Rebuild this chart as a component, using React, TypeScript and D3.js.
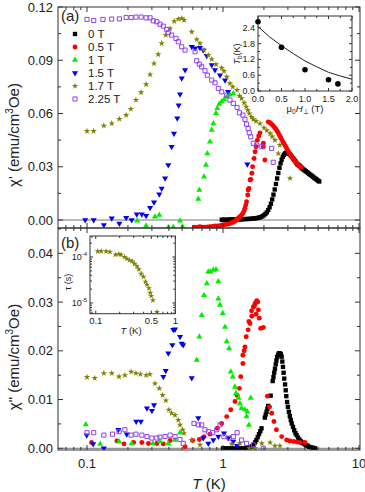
import React, { useEffect, useRef } from 'react';
import * as d3 from 'd3';

// legend
const fields = ['0 T', '0.5 T', '1 T', '1.5 T', '1.7 T', '2.25 T'];
const colors = ['#000000', '#ff0000', '#00ee00', '#0000ee', '#808000', '#9040f0'];
const shapes = ['square', 'circle', 'triangle', 'down', 'star', 'open'];

// panel (a): chi' [T (K), emu/cm3Oe]
const re0: [number, number][] = [
  [0.98, 0.0002], [1.0, 0.0], [1.03, 0.0002], [1.06, 0.0001], [1.1, 0.0002], [1.13, 0.0003], [1.17, 0.0002],
  [1.2, 0.0003], [1.24, 0.0003], [1.28, 0.0004], [1.32, 0.0003], [1.36, 0.0004], [1.4, 0.0005], [1.45, 0.0005],
  [1.5, 0.0006], [1.55, 0.0006], [1.6, 0.0007], [1.65, 0.0008], [1.7, 0.0009], [1.75, 0.001], [1.8, 0.0012],
  [1.85, 0.0014], [1.9, 0.0017], [1.95, 0.0021], [2.0, 0.0027], [2.05, 0.0034], [2.1, 0.0043], [2.15, 0.0056],
  [2.2, 0.0072], [2.25, 0.0092], [2.3, 0.0116], [2.35, 0.0143], [2.4, 0.0172], [2.45, 0.0203], [2.5, 0.0234],
  [2.55, 0.0265], [2.6, 0.0294], [2.65, 0.0319], [2.7, 0.034], [2.75, 0.0356], [2.8, 0.0367], [2.86, 0.0375],
  [2.92, 0.0379], [2.98, 0.0378], [3.04, 0.0375], [3.1, 0.037], [3.16, 0.0363], [3.22, 0.0355], [3.28, 0.0347],
  [3.34, 0.0339], [3.4, 0.0331], [3.46, 0.0322], [3.52, 0.0314], [3.58, 0.031], [3.64, 0.0306], [3.7, 0.0302],
  [3.76, 0.0296], [3.82, 0.029], [3.9, 0.0285], [3.98, 0.028], [4.06, 0.0275], [4.14, 0.027], [4.22, 0.0265],
  [4.3, 0.026], [4.4, 0.0254], [4.5, 0.0249], [4.6, 0.0243], [4.7, 0.0237], [4.8, 0.0232], [4.9, 0.0227],
  [5.0, 0.0222], [5.1, 0.0217],
];
const re05: [number, number][] = [
  [0.615, -0.0041], [0.65, -0.004], [0.677, -0.0038], [0.71, -0.004], [0.737, -0.0041], [0.77, -0.0039],
  [0.802, -0.0038], [0.84, -0.0037], [0.873, -0.0034], [0.91, -0.0034], [0.95, -0.0032], [0.98, -0.0029],
  [1.017, -0.0026], [1.05, -0.0025], [1.094, -0.0023], [1.13, -0.0019], [1.16, -0.0015], [1.19, -0.0011],
  [1.225, -0.0007], [1.25, -0.0001], [1.27, 0.0004], [1.3, 0.0011], [1.33, 0.0019], [1.37, 0.0028], [1.4, 0.0038],
  [1.43, 0.0052], [1.45, 0.0066], [1.47, 0.0084], [1.49, 0.0103], [1.52, 0.0141], [1.53, 0.0169], [1.55, 0.0178],
  [1.58, 0.0225], [1.6, 0.0229], [1.63, 0.0263], [1.65, 0.03], [1.69, 0.0347], [1.72, 0.0385], [1.75, 0.0413],
  [1.79, 0.045], [1.83, 0.0473], [1.87, 0.0491], [1.98, 0.0432], [1.98, 0.0413], [2.03, 0.0338],
  [2.15, 0.0553], [2.2, 0.0549], [2.25, 0.0543], [2.3, 0.0536], [2.35, 0.0528], [2.4, 0.052], [2.45, 0.0511],
  [2.5, 0.0501], [2.55, 0.049], [2.6, 0.0478], [2.65, 0.0466], [2.7, 0.0453], [2.76, 0.044], [2.82, 0.0428],
  [2.88, 0.0416], [2.94, 0.0403], [3.0, 0.0391], [3.06, 0.0379], [3.13, 0.0367], [3.2, 0.0356], [3.28, 0.0344],
  [3.36, 0.0333], [3.45, 0.0322], [3.55, 0.0312], [3.65, 0.0303], [3.75, 0.0297],
];
const re1: [number, number][] = [
  [0.234, -0.0004], [0.272, -0.0032], [0.316, 0.0019], [0.34, 0.0028], [0.396, -0.0042], [0.431, -0.0041],
  [0.483, -0.0004], [0.505, -0.0038], [0.658, 0.0118], [0.67, 0.0169], [0.725, 0.0244], [0.75, 0.031],
  [0.767, 0.0375], [0.802, 0.0441], [0.826, 0.0507], [0.849, 0.0544], [0.888, 0.0601], [0.908, 0.0629],
  [0.939, 0.0653], [0.978, 0.0666], [1.02, 0.068], [1.065, 0.0694], [1.12, 0.0705], [1.19, 0.0713],
];
const re15: [number, number][] = [
  [0.097, 0.0], [0.112, 0.0], [0.133, -0.0028], [0.152, 0.001], [0.173, -0.0019], [0.194, 0.0013], [0.213, 0.0],
  [0.232, 0.0032], [0.253, 0.0032], [0.272, 0.0024], [0.291, 0.0069], [0.311, 0.01], [0.34, 0.0145],
  [0.354, 0.0178], [0.375, 0.0235], [0.396, 0.031], [0.419, 0.0413], [0.436, 0.0488], [0.461, 0.0573],
  [0.472, 0.0647], [0.483, 0.0708], [0.497, 0.0798], [0.526, 0.0845], [0.589, 0.0976], [0.623, 0.0967],
  [0.677, 0.097], [0.716, 0.0957], [0.759, 0.0925], [0.826, 0.0873], [0.873, 0.0845], [0.95, 0.0816],
  [1.035, 0.0788], [1.09, 0.0722], [1.51, 0.0314],
];
const re17: [number, number][] = [
  [0.1, 0.0501], [0.112, 0.0501], [0.133, 0.0531], [0.152, 0.0544], [0.173, 0.0569], [0.194, 0.0591],
  [0.21, 0.0625], [0.229, 0.0676], [0.25, 0.0719], [0.272, 0.0764], [0.291, 0.082], [0.311, 0.0882],
  [0.334, 0.0933], [0.354, 0.0995], [0.379, 0.1042], [0.408, 0.1079], [0.438, 0.112], [0.469, 0.1132],
  [0.497, 0.1136], [0.517, 0.1126], [0.589, 0.106], [0.641, 0.1017], [0.677, 0.0995], [0.725, 0.0957],
  [0.78, 0.0929], [0.826, 0.0906], [0.888, 0.0877], [0.978, 0.0857], [1.017, 0.0839], [1.065, 0.0807],
  [1.125, 0.077], [1.18, 0.075], [1.27, 0.0732], [1.32, 0.07], [1.37, 0.0685], [1.43, 0.066], [1.48, 0.0638],
  [1.52, 0.062], [1.56, 0.06], [1.62, 0.058], [1.67, 0.0567], [1.75, 0.0557], [1.87, 0.0544], [2.0, 0.052],
  [2.1, 0.0505], [2.22, 0.0488], [2.3, 0.047], [2.41, 0.045], [2.62, 0.0422], [2.55, 0.0375], [3.11, 0.0235],
];
const re225: [number, number][] = [
  [0.1, 0.113], [0.112, 0.1124], [0.131, 0.113], [0.152, 0.1132], [0.173, 0.1133], [0.194, 0.1141],
  [0.211, 0.1141], [0.229, 0.1143], [0.25, 0.1143], [0.272, 0.1139], [0.291, 0.1139], [0.307, 0.1122],
  [0.326, 0.1117], [0.344, 0.1103], [0.364, 0.1092], [0.386, 0.1074], [0.396, 0.1055], [0.419, 0.1042],
  [0.451, 0.1023], [0.469, 0.1004], [0.497, 0.0976], [0.526, 0.0957], [0.623, 0.0948], [0.641, 0.0897],
  [0.67, 0.0878], [0.697, 0.0863], [0.737, 0.0841], [0.767, 0.0816], [0.826, 0.0788], [0.873, 0.0773],
  [0.924, 0.0741], [0.978, 0.0722], [1.065, 0.0704], [1.125, 0.0676], [1.19, 0.0657], [1.27, 0.0634],
  [1.32, 0.0604], [1.4, 0.0591], [1.45, 0.0567], [1.49, 0.054], [1.53, 0.0516], [1.56, 0.0491], [1.6, 0.0469],
  [1.67, 0.0432], [1.77, 0.0422], [1.93, 0.0413], [2.28, 0.0404], [2.34, 0.0325],
];

// panel (b): chi'' [T (K), emu/cm3Oe]
const im0: [number, number][] = [
  [1.0, 0.0], [1.05, 0.0], [1.1, 0.0], [1.16, 0.0], [1.22, 0.0], [1.28, 0.0], [1.35, 0.0], [1.42, 0.0],
  [1.5, 0.0001], [1.57, 0.0002], [1.63, 0.0004], [1.68, 0.0007], [1.72, 0.0012], [1.76, 0.0017], [1.8, 0.0023],
  [1.84, 0.0029], [1.88, 0.0035], [1.92, 0.0041], [2.03, 0.0063], [2.06, 0.0069], [2.09, 0.0075], [2.12, 0.0081],
  [2.15, 0.0087], [2.24, 0.0108], [2.32, 0.0138], [2.35, 0.0146], [2.38, 0.0155], [2.41, 0.0163], [2.44, 0.0172],
  [2.47, 0.018], [2.5, 0.0187], [2.54, 0.0192], [2.58, 0.0195], [2.62, 0.0195], [2.66, 0.0193], [2.7, 0.0188],
  [2.73, 0.0178], [2.76, 0.0167], [2.79, 0.0155], [2.82, 0.0143], [2.86, 0.0131], [2.89, 0.0119], [2.92, 0.0107],
  [2.96, 0.0095], [3.0, 0.0085], [3.05, 0.0075], [3.1, 0.0066], [3.15, 0.0058], [3.2, 0.0051], [3.27, 0.0044],
  [3.34, 0.0037], [3.41, 0.0031], [3.48, 0.0027], [3.56, 0.0022], [3.64, 0.0018], [3.72, 0.0015], [3.8, 0.0012],
  [3.9, 0.001], [4.0, 0.0008], [4.1, 0.0006], [4.2, 0.0005], [4.3, 0.0003], [4.45, 0.0002], [4.6, 0.0001],
  [4.75, 0.0],
];
const im05: [number, number][] = [
  [0.108, 0.0012], [0.166, 0.0015], [0.187, 0.0009], [0.22, 0.0012], [0.253, 0.0012], [0.283, 0.001],
  [0.326, 0.001], [0.364, 0.0009], [0.408, 0.0016], [0.526, 0.0003], [0.599, 0.0016], [0.67, 0.0018],
  [0.725, 0.0024], [0.802, 0.0029], [0.908, 0.0041], [0.978, 0.0051], [1.065, 0.0065], [1.14, 0.0079],
  [1.225, 0.0096], [1.27, 0.0109], [1.32, 0.0123], [1.35, 0.0147], [1.4, 0.0174], [1.4, 0.0191], [1.43, 0.02],
  [1.45, 0.0208], [1.48, 0.0229], [1.53, 0.0243], [1.55, 0.026], [1.58, 0.0256], [1.62, 0.0282], [1.63, 0.0271],
  [1.67, 0.029], [1.7, 0.0292], [1.72, 0.0297], [1.75, 0.0275], [1.77, 0.0303], [1.8, 0.03], [1.82, 0.0284],
  [1.85, 0.0267], [1.89, 0.0246], [1.98, 0.0248], [2.12, 0.0107], [2.2, 0.0085], [2.28, 0.0072],
  [2.37, 0.0055], [2.47, 0.0038], [2.7, 0.0024], [2.94, 0.0017], [3.1, 0.0015], [3.3, 0.0014], [3.5, 0.0013],
  [3.68, 0.0012], [4.0, 0.0012],
];
const im1: [number, number][] = [
  [0.098, 0.0049], [0.125, 0.0009], [0.172, 0.0014], [0.213, 0.001], [0.305, 0.001], [0.344, 0.0014],
  [0.396, 0.001], [0.444, 0.0017], [0.483, 0.0032], [0.641, 0.0181], [0.67, 0.0229], [0.697, 0.0273],
  [0.725, 0.0314], [0.76, 0.0338], [0.78, 0.0362], [0.81, 0.0362], [0.849, 0.0366], [0.888, 0.0367],
  [0.924, 0.0342], [0.924, 0.0307], [0.95, 0.0294], [0.995, 0.0277], [1.035, 0.0249], [1.065, 0.0219],
  [1.11, 0.0205], [1.14, 0.0157], [1.18, 0.0147], [1.225, 0.0126], [1.245, 0.0113], [1.3, 0.0103],
  [1.33, 0.0092], [1.37, 0.0082], [1.45, 0.0079], [1.51, 0.0075], [1.49, 0.0065], [1.6, 0.0103], [1.55, 0.0048],
];
const im15: [number, number][] = [
  [0.0995, 0.0027], [0.111, 0.0009], [0.133, 0.0], [0.17, 0.0038], [0.196, 0.0029], [0.23, 0.0055],
  [0.249, 0.0055], [0.276, 0.0082], [0.3, 0.0077], [0.311, 0.0089], [0.364, 0.0147], [0.379, 0.0159],
  [0.396, 0.0195], [0.424, 0.0212], [0.431, 0.0243], [0.444, 0.0244], [0.483, 0.0229], [0.497, 0.0215],
  [0.51, 0.0212], [0.589, 0.0144], [0.658, 0.0062], [0.716, 0.0021], [0.78, 0.001], [0.849, 0.0017],
  [0.924, 0.0024], [1.017, 0.0031], [1.094, 0.0021], [1.19, 0.0014], [1.27, 0.0005],
];
const im17: [number, number][] = [
  [0.1, 0.0146], [0.114, 0.0144], [0.133, 0.0154], [0.152, 0.0154], [0.172, 0.0147], [0.19, 0.015],
  [0.211, 0.0157], [0.229, 0.0154], [0.247, 0.0152], [0.272, 0.015], [0.29, 0.0152], [0.316, 0.0133],
  [0.34, 0.0123], [0.36, 0.0109], [0.38, 0.0098], [0.4, 0.0079], [0.419, 0.0072], [0.444, 0.0068],
  [0.469, 0.0058], [0.483, 0.0048], [0.505, 0.0038], [0.517, 0.0031], [0.589, 0.0017], [0.677, 0.0007],
  [1.16, 0.0009], [1.33, 0.001], [1.56, 0.0], [1.72, 0.0], [1.93, 0.001], [2.22, 0.0012], [2.41, 0.0005],
  [2.62, 0.0005],
];
const im225: [number, number][] = [
  [0.1, 0.0032], [0.112, 0.0032], [0.133, 0.0027], [0.154, 0.0029], [0.172, 0.0034], [0.19, 0.0038],
  [0.211, 0.0027], [0.229, 0.0029], [0.253, 0.0027], [0.276, 0.0024], [0.3, 0.0021], [0.326, 0.0021],
  [0.344, 0.0023], [0.375, 0.0024], [0.408, 0.0027], [0.444, 0.0024], [0.483, 0.0018], [0.51, 0.001],
  [0.612, 0.0051], [0.658, 0.0048], [0.697, 0.0048], [0.737, 0.0038], [0.78, 0.0034], [0.84, 0.0032],
  [0.9, 0.0038], [0.95, 0.0048], [1.017, 0.0024], [1.11, 0.0021], [1.19, 0.0024], [1.27, 0.0032],
  [1.37, 0.0017], [1.49, 0.001], [1.67, 0.0007], [1.98, 0.0],
];

// inset (a): blocking temperature vs field
const insetH = [0, 0.5, 1.0, 1.5, 1.7];
const insetTb = [2.63, 1.66, 0.81, 0.43, 0.27];
const curveH = [0, 0.25, 0.5, 0.75, 1.0, 1.25, 1.5, 1.75, 2.0];
const curveTb = [2.45, 2.05, 1.72, 1.42, 1.14, 0.92, 0.71, 0.57, 0.45];

// inset (b): relaxation time at 1.7 T
const tauT = [0.106, 0.117, 0.135, 0.151, 0.177, 0.195, 0.208, 0.23, 0.246, 0.266, 0.287, 0.307, 0.329,
  0.348, 0.372, 0.398, 0.422, 0.44, 0.466, 0.484, 0.498, 0.523, 0.587];
const tauS = [1.33e-4, 1.33e-4, 1.33e-4, 1.29e-4, 1.12e-4, 1.16e-4, 1.12e-4, 1.0e-4, 9.2e-5, 8.5e-5, 8.1e-5,
  7.1e-5, 6.3e-5, 5.4e-5, 4.3e-5, 3.7e-5, 2.9e-5, 2.5e-5, 2.1e-5, 1.67e-5, 1.42e-5, 1.14e-5, 6.4e-6];

const realSeries = [re0, re05, re1, re15, re17, re225];
const imagSeries = [im0, im05, im1, im15, im17, im225];

const FONT = '"Liberation Sans", Arial, Helvetica, sans-serif';
const INK = '#333';

function marker(g, shape, color, cx, cy, s = 1) {
  const typeMap = {
    square: d3.symbolSquare, circle: d3.symbolCircle, triangle: d3.symbolTriangle,
    down: d3.symbolTriangle, star: d3.symbolStar, open: d3.symbolSquare,
  };
  const sizeMap = { square: 19, circle: 19, triangle: 16, down: 16, star: 13, open: 17 };
  const p = g.append('path')
    .attr('d', d3.symbol().type(typeMap[shape]).size(sizeMap[shape] * s)())
    .attr('transform', `translate(${cx},${cy})${shape === 'down' ? ' rotate(180)' : ''}`);
  if (shape === 'open') p.attr('fill', 'none').attr('stroke', color).attr('stroke-width', 1);
  else p.attr('fill', color);
}

function logMinors(lo, hi) {
  const out = [];
  for (let e = Math.floor(Math.log10(lo)); e <= Math.ceil(Math.log10(hi)); e++) {
    for (let k = 1; k <= 9; k++) {
      const v = k * Math.pow(10, e);
      if (v >= lo && v <= hi) out.push(v);
    }
  }
  return out;
}

export default function App() {
  const ref = useRef(null);
  useEffect(() => {
    draw();
    // eslint-disable-next-line react-hooks/exhaustive-deps
  }, []);

  function draw() {
    const svg = d3.select(ref.current);
    svg.selectAll('*').remove();
    const L = 58;
    const R = 360;
    const x = d3.scaleLog().domain([0.0612, 10.17]).range([L, R]);
    const ya = d3.scaleLinear().domain([-0.0045, 0.12]).range([228, 7]);
    const yb = d3.scaleLinear().domain([-0.00035, 0.0452]).range([450, 228]);

    const defs = svg.append('defs');
    defs.append('clipPath').attr('id', 'clipA').append('rect')
      .attr('x', L).attr('y', 7).attr('width', R - L).attr('height', 221);
    defs.append('clipPath').attr('id', 'clipB').append('rect')
      .attr('x', L).attr('y', 228).attr('width', R - L).attr('height', 222);

    const xMinor = logMinors(0.0612, 10.17);
    const xMajor = [0.1, 1, 10];

    function panel(y, series, clip, majors, minorStep, top, bottom) {
      const g = svg.append('g');
      // zero line
      g.append('line').attr('x1', L).attr('x2', R).attr('y1', y(0)).attr('y2', y(0))
        .attr('stroke', '#777').attr('stroke-width', 1);
      const marks = g.append('g').attr('clip-path', `url(#${clip})`);
      series.forEach((data, i) => {
        data.forEach((d) => marker(marks, shapes[i], colors[i], x(d[0]), y(d[1])));
      });
      g.append('rect').attr('x', L).attr('y', top).attr('width', R - L).attr('height', bottom - top)
        .attr('fill', 'none').attr('stroke', INK).attr('stroke-width', 1);
      const ticks = g.append('g').attr('stroke', INK).attr('stroke-width', 1);
      xMinor.forEach((v) => {
        const len = xMajor.includes(v) ? 5 : 3;
        ticks.append('line').attr('x1', x(v)).attr('x2', x(v)).attr('y1', bottom).attr('y2', bottom - len);
        ticks.append('line').attr('x1', x(v)).attr('x2', x(v)).attr('y1', top).attr('y2', top + len);
      });
      const [y0, y1] = y.domain();
      for (let v = 0; v <= y1 + 1e-9; v += minorStep) {
        const isMajor = majors.some((m) => Math.abs(m - v) < 1e-9);
        const len = isMajor ? 5 : 3;
        const py = y(v);
        if (v < y0) continue;
        ticks.append('line').attr('x1', L).attr('x2', L + len).attr('y1', py).attr('y2', py);
        ticks.append('line').attr('x1', R).attr('x2', R - len).attr('y1', py).attr('y2', py);
      }
      majors.forEach((m) => {
        g.append('text').attr('x', 53).attr('y', y(m) + 4.5).attr('text-anchor', 'end')
          .attr('font-size', 13).attr('font-family', FONT).attr('fill', '#222').text(d3.format('.2f')(m));
      });
      return g;
    }

    panel(ya, realSeries, 'clipA', [0, 0.03, 0.06, 0.09, 0.12], 0.015, 7, 228);
    panel(yb, imagSeries, 'clipB', [0, 0.01, 0.02, 0.03, 0.04], 0.005, 228, 450);

    // x tick labels
    [[0.1, '0.1'], [1, '1'], [10, '10']].forEach(([v, t]) => {
      svg.append('text').attr('x', x(v)).attr('y', 468).attr('text-anchor', 'middle')
        .attr('font-size', 13).attr('font-family', FONT).attr('fill', '#222').text(t);
    });
    const xt = svg.append('text').attr('x', 209).attr('y', 489).attr('text-anchor', 'middle')
      .attr('font-size', 15).attr('font-family', FONT).attr('fill', '#222');
    xt.append('tspan').attr('font-style', 'italic').text('T');
    xt.append('tspan').text(' (K)');

    // y titles
    function yTitle(cy, prime) {
      const t = svg.append('text').attr('transform', `translate(19,${cy}) rotate(-90)`)
        .attr('text-anchor', 'middle').attr('font-size', 15).attr('font-family', FONT).attr('fill', '#222');
      t.append('tspan').text(`χ${prime} (emu/cm`);
      t.append('tspan').attr('font-size', 10).attr('dy', -6).text('3');
      t.append('tspan').attr('dy', 6).text('Oe)');
    }
    yTitle(135, "'");
    yTitle(357, '"');

    // panel letters
    svg.append('text').attr('x', 61).attr('y', 21).attr('font-size', 15).attr('font-family', FONT)
      .attr('fill', '#222').text('(a)');
    svg.append('text').attr('x', 61).attr('y', 248).attr('font-size', 15).attr('font-family', FONT)
      .attr('fill', '#222').text('(b)');

    // legend
    fields.forEach((f, i) => {
      const cy = 34 + i * 13;
      marker(svg, shapes[i], colors[i], 75, cy);
      svg.append('text').attr('x', 88).attr('y', cy + 4).attr('font-size', 11.5).attr('font-family', FONT)
        .attr('fill', '#222').text(f);
    });

    // inset (a)
    const ia = svg.append('g');
    const ixa = d3.scaleLinear().domain([0, 2]).range([258, 352]);
    const iya = d3.scaleLinear().domain([0, 2.85]).range([91, 16]);
    ia.append('rect').attr('x', 258).attr('y', 16).attr('width', 94).attr('height', 75)
      .attr('fill', '#fff').attr('stroke', INK).attr('stroke-width', 1);
    const line = d3.line().x((d) => ixa(d[0])).y((d) => iya(d[1]));
    ia.append('path').attr('d', line(curveH.map((h, i) => [h, curveTb[i]])))
      .attr('fill', 'none').attr('stroke', '#222').attr('stroke-width', 1);
    insetH.forEach((h, i) => {
      ia.append('circle').attr('cx', ixa(h)).attr('cy', iya(insetTb[i])).attr('r', 2.8).attr('fill', '#000');
    });
    const iat = ia.append('g').attr('stroke', INK);
    d3.range(0, 2.01, 0.25).forEach((v) => {
      const len = Math.abs(v / 0.5 - Math.round(v / 0.5)) < 1e-6 ? 3 : 2;
      iat.append('line').attr('x1', ixa(v)).attr('x2', ixa(v)).attr('y1', 91).attr('y2', 91 - len);
      iat.append('line').attr('x1', ixa(v)).attr('x2', ixa(v)).attr('y1', 16).attr('y2', 16 + len);
    });
    d3.range(0, 2.81, 0.3).forEach((v) => {
      const len = Math.abs(v / 0.6 - Math.round(v / 0.6)) < 1e-6 ? 3 : 2;
      iat.append('line').attr('x1', 258).attr('x2', 258 + len).attr('y1', iya(v)).attr('y2', iya(v));
      iat.append('line').attr('x1', 352).attr('x2', 352 - len).attr('y1', iya(v)).attr('y2', iya(v));
    });
    [0, 0.5, 1.0, 1.5, 2.0].forEach((v) => {
      ia.append('text').attr('x', ixa(v)).attr('y', 101.5).attr('text-anchor', 'middle').attr('font-size', 9)
        .attr('font-family', FONT).attr('fill', '#222').text(v.toFixed(1));
    });
    [0, 0.6, 1.2, 1.8, 2.4].forEach((v) => {
      ia.append('text').attr('x', 255).attr('y', iya(v) + 3).attr('text-anchor', 'end').attr('font-size', 9)
        .attr('font-family', FONT).attr('fill', '#222').text(v.toFixed(1));
    });
    const tb = ia.append('text').attr('transform', 'translate(240,54) rotate(-90)').attr('text-anchor', 'middle')
      .attr('font-size', 9).attr('font-family', FONT).attr('fill', '#222');
    tb.append('tspan').attr('font-style', 'italic').text('T');
    tb.append('tspan').attr('font-size', 6.5).attr('dy', 2).text('b');
    tb.append('tspan').attr('dy', -2).text('(K)');
    const hx = ia.append('text').attr('x', 305).attr('y', 112).attr('text-anchor', 'middle')
      .attr('font-size', 9.5).attr('font-family', FONT).attr('fill', '#222');
    hx.append('tspan').text('μ');
    hx.append('tspan').attr('font-size', 6.5).attr('dy', 2).text('0');
    hx.append('tspan').attr('dy', -2).attr('font-style', 'italic').text('H');
    hx.append('tspan').attr('font-size', 6.5).attr('dy', 2).text('⊥');
    hx.append('tspan').attr('dy', -2).text(' (T)');

    // inset (b)
    const ib = svg.append('g');
    const ixb = d3.scaleLog().domain([0.0847, 1.0]).range([90, 175.3]);
    const iyb = d3.scaleLog().domain([5.85e-6, 2.86e-4]).range([313.7, 236]);
    ib.append('rect').attr('x', 90).attr('y', 236).attr('width', 85.3).attr('height', 77.7)
      .attr('fill', '#fff').attr('stroke', INK).attr('stroke-width', 1);
    tauT.forEach((t, i) => marker(ib, 'star', colors[4], ixb(t), iyb(tauS[i]), 0.9));
    const ibt = ib.append('g').attr('stroke', INK);
    logMinors(0.0847, 1.0).forEach((v) => {
      const len = [0.1, 0.5, 1].some((m) => Math.abs(m - v) < 1e-9) ? 3 : 2;
      ibt.append('line').attr('x1', ixb(v)).attr('x2', ixb(v)).attr('y1', 313.7).attr('y2', 313.7 - len);
      ibt.append('line').attr('x1', ixb(v)).attr('x2', ixb(v)).attr('y1', 236).attr('y2', 236 + len);
    });
    logMinors(5.85e-6, 2.86e-4).forEach((v) => {
      const len = [1e-5, 1e-4].some((m) => Math.abs(m - v) / m < 1e-6) ? 3 : 2;
      ibt.append('line').attr('x1', 90).attr('x2', 90 + len).attr('y1', iyb(v)).attr('y2', iyb(v));
      ibt.append('line').attr('x1', 175.3).attr('x2', 175.3 - len).attr('y1', iyb(v)).attr('y2', iyb(v));
    });
    [[0.1, '0.1'], [0.5, '0.5'], [1, '1']].forEach(([v, t]) => {
      ib.append('text').attr('x', ixb(v)).attr('y', 324).attr('text-anchor', 'middle').attr('font-size', 9.5)
        .attr('font-family', FONT).attr('fill', '#222').text(t);
    });
    [[1e-4, '-4'], [1e-5, '-5']].forEach(([v, e]) => {
      const t = ib.append('text').attr('x', 87).attr('y', iyb(v) + 3.5).attr('text-anchor', 'end')
        .attr('font-size', 9).attr('font-family', FONT).attr('fill', '#222');
      t.append('tspan').text('10');
      t.append('tspan').attr('font-size', 6).attr('dy', -4).text(e);
    });
    const tl = ib.append('text').attr('x', 131).attr('y', 334).attr('text-anchor', 'middle')
      .attr('font-size', 9.5).attr('font-family', FONT).attr('fill', '#222');
    tl.append('tspan').attr('font-style', 'italic').text('T');
    tl.append('tspan').text(' (K)');
    ib.append('text').attr('transform', 'translate(71,282) rotate(-90)').attr('text-anchor', 'middle')
      .attr('font-size', 9).attr('font-family', FONT).attr('fill', '#222').text('τ (s)');
  }

  return (
    <svg
      ref={ref}
      width={365}
      height={492}
      style={{ position: 'absolute', left: 0, top: 0, background: '#fff' }}
    />
  );
}
